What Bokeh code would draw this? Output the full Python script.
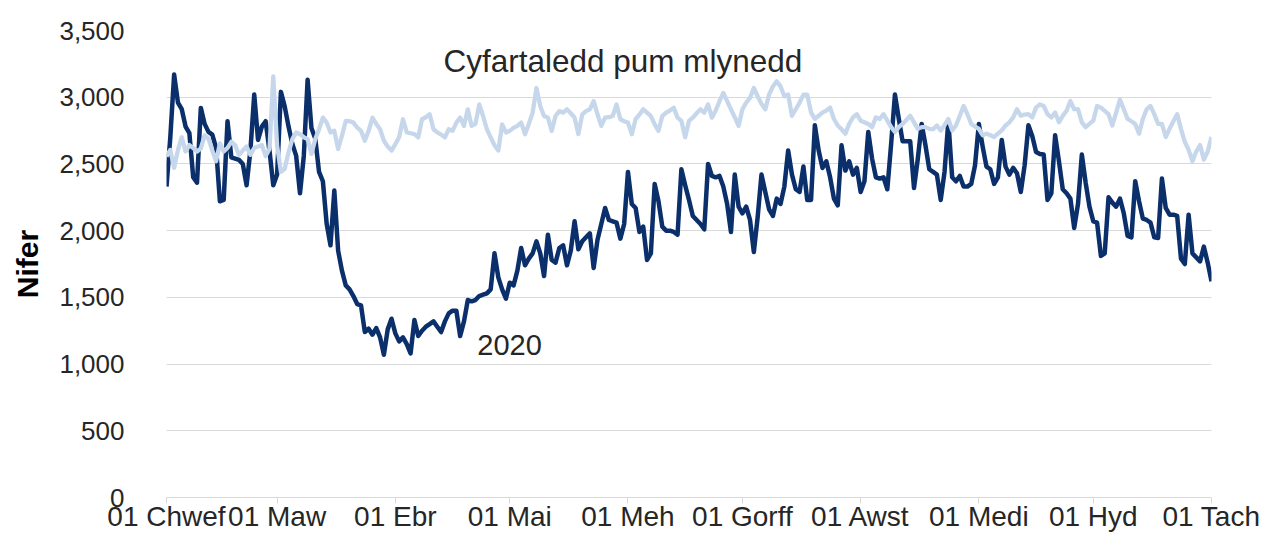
import pandas as pd
from bokeh.plotting import figure
from bokeh.models import Range1d, FixedTicker, NumeralTickFormatter, Label, ColumnDataSource
from bokeh.embed import file_html
from bokeh.resources import INLINE

start_date = "2020-02-01"
end_date = "2020-11-01"

month_starts = ["2020-02-01", "2020-03-01", "2020-04-01", "2020-05-01", "2020-06-01",
                "2020-07-01", "2020-08-01", "2020-09-01", "2020-10-01", "2020-11-01"]
month_labels = ["01 Chwef", "01 Maw", "01 Ebr", "01 Mai", "01 Meh",
                "01 Gorff", "01 Awst", "01 Medi", "01 Hyd", "01 Tach"]
y_ticks = [0, 500, 1000, 1500, 2000, 2500, 3000, 3500]

series_2020 = [
    2330, 2700, 3170, 2960, 2910, 2780, 2730, 2400, 2360, 2920,
    2800, 2740, 2720, 2620, 2220, 2230, 2820, 2550, 2540, 2530,
    2500, 2340, 2600, 3020, 2680, 2780, 2820, 2600, 2340, 2420,
    3040, 2930, 2780, 2650, 2560, 2280, 2560, 3130, 2770, 2690,
    2440, 2370, 2050, 1890, 2300, 1850, 1700, 1590, 1560, 1510,
    1450, 1440, 1240, 1265, 1220, 1270, 1200, 1070, 1260, 1340,
    1230, 1170, 1200, 1150, 1080, 1330, 1210, 1250, 1280, 1300,
    1320, 1280, 1240, 1320, 1380, 1400, 1400, 1210, 1320, 1480,
    1470, 1480, 1510, 1520, 1530, 1560, 1830, 1650, 1560, 1490,
    1610, 1590, 1700, 1870, 1740, 1790, 1830, 1920, 1830, 1660,
    1970, 1780, 1760, 1870, 1890, 1740, 1850, 2070, 1860, 1920,
    1950, 1980, 1720, 1930, 2050, 2170, 2080, 2070, 2060, 1940,
    2050, 2440, 2200, 2170, 1990, 2030, 1780, 1830, 2350, 2220,
    2030, 2000, 2000, 1990, 1970, 2460, 2340, 2230, 2110, 2080,
    2050, 2010, 2500, 2410, 2400, 2410, 2330, 2200, 1990, 2420,
    2180, 2130, 2180, 2080, 1840, 2100, 2420, 2290, 2160, 2110,
    2240, 2200, 2330, 2600, 2420, 2310, 2290, 2480, 2230, 2230,
    2790, 2600, 2470, 2520, 2400, 2240, 2190, 2640, 2450, 2520,
    2420, 2470, 2290, 2370, 2740, 2540, 2400, 2390, 2400, 2310,
    2650, 3020, 2840, 2670, 2670, 2670, 2320, 2540, 2800, 2640,
    2460, 2440, 2420, 2230, 2440, 2820, 2400, 2370, 2410, 2330,
    2330, 2350, 2490, 2800, 2630, 2480, 2460, 2350, 2400, 2680,
    2480, 2420, 2470, 2430, 2290, 2490, 2790, 2710, 2590, 2575,
    2570, 2230, 2280, 2715, 2520, 2310, 2280, 2240, 2020, 2200,
    2570, 2360, 2180, 2070, 2060, 1810, 1830, 2250, 2210, 2180,
    2240, 2130, 1960, 1950, 2370, 2220, 2090, 2080, 2060, 1950,
    1945, 2390, 2170, 2120, 2120, 2110, 1790, 1750, 2120, 1830,
    1800, 1770, 1880, 1760, 1620,
]

series_avg5 = [
    2556, 2605, 2471, 2605, 2700, 2593, 2641, 2620, 2593, 2617,
    2714, 2690, 2600, 2520, 2654, 2593, 2620, 2666, 2641, 2568,
    2600, 2630, 2568, 2620, 2630, 2641, 2560, 2612, 3156, 2637,
    2440, 2464, 2587, 2686, 2736, 2723, 2700, 2686, 2575, 2686,
    2760, 2847, 2810, 2736, 2748, 2612, 2711, 2822, 2820, 2810,
    2773, 2748, 2674, 2748, 2847, 2800, 2760, 2674, 2630, 2600,
    2649, 2700, 2835, 2736, 2730, 2723, 2699, 2835, 2850, 2872,
    2760, 2736, 2720, 2699, 2760, 2748, 2810, 2847, 2785, 2909,
    2785, 2800, 2946, 2859, 2760, 2699, 2640, 2600, 2797, 2736,
    2748, 2770, 2785, 2810, 2723, 2800, 2884, 3069, 2933, 2859,
    2847, 2748, 2859, 2896, 2884, 2909, 2880, 2847, 2723, 2872,
    2896, 2909, 2970, 2872, 2785, 2847, 2850, 2859, 2946, 2835,
    2820, 2810, 2723, 2835, 2870, 2909, 2884, 2859, 2797, 2748,
    2859, 2884, 2900, 2921, 2847, 2822, 2699, 2822, 2847, 2880,
    2909, 2884, 2946, 2847, 2900, 2970, 3032, 2970, 2909, 2850,
    2785, 2909, 2960, 2995, 3069, 3007, 2950, 2909, 3020, 3080,
    3119, 3081, 3007, 3020, 2861, 2910, 2959, 3020, 3020, 2885,
    2837, 2861, 2885, 2900, 2922, 2837, 2788, 2760, 2727, 2800,
    2849, 2873, 2824, 2812, 2800, 2776, 2849, 2837, 2873, 2824,
    2776, 2739, 2776, 2800, 2830, 2861, 2812, 2763, 2776, 2776,
    2763, 2760, 2788, 2751, 2790, 2837, 2751, 2788, 2860, 2934,
    2873, 2800, 2780, 2763, 2715, 2727, 2715, 2702, 2727, 2751,
    2788, 2812, 2849, 2910, 2861, 2870, 2873, 2849, 2922, 2946,
    2934, 2873, 2849, 2885, 2812, 2860, 2898, 2971, 2910, 2910,
    2812, 2776, 2800, 2824, 2934, 2922, 2898, 2873, 2788, 2885,
    2983, 2910, 2837, 2820, 2800, 2727, 2837, 2910, 2934, 2873,
    2800, 2800, 2702, 2763, 2820, 2873, 2763, 2666, 2605, 2520,
    2593, 2641, 2532, 2593, 2702,
]

label_avg = "Cyfartaledd pum mlynedd"
label_2020 = "2020"
y_title = "Nifer"

dates = pd.date_range(start_date, end_date, freq="D")
t0 = dates[0]
day_index = [(d - t0).days for d in dates]
tick_pos = [(pd.Timestamp(m) - t0).days for m in month_starts]

src = ColumnDataSource(dict(x=day_index, y2020=series_2020, yavg=series_avg5))

FONT = "Liberation Sans"
TXT = "#262626"

p = figure(frame_width=1045, frame_height=467, output_backend="svg", toolbar_location=None,
           x_range=Range1d(tick_pos[0], tick_pos[-1]), y_range=Range1d(0, 3500),
           min_border_left=166, min_border_right=51, min_border_top=30, min_border_bottom=36)
p.outline_line_color = None
p.background_fill_color = "white"
p.border_fill_color = "white"

p.line("x", "y2020", source=src, line_color="#0b2f6b", line_width=4.5, line_join="round")
p.line("x", "yavg", source=src, line_color="#c6d7ec", line_width=4.3, line_join="round")

p.xgrid.visible = False
p.ygrid.grid_line_color = "#d9d9d9"
p.ygrid.grid_line_width = 1

p.yaxis.ticker = FixedTicker(ticks=y_ticks)
p.yaxis.formatter = NumeralTickFormatter(format="0,0")
p.yaxis.axis_line_color = None
p.yaxis.major_tick_line_color = None
p.yaxis.minor_tick_line_color = None
p.yaxis.major_label_standoff = 36
p.yaxis.major_label_text_font = FONT
p.yaxis.major_label_text_font_size = "26px"
p.yaxis.major_label_text_color = TXT
p.yaxis.axis_label = y_title
p.yaxis.axis_label_text_font = FONT
p.yaxis.axis_label_text_font_size = "30px"
p.yaxis.axis_label_text_font_style = "bold"
p.yaxis.axis_label_text_color = "#000000"
p.yaxis.axis_label_standoff = 12

p.xaxis.ticker = FixedTicker(ticks=tick_pos)
p.xaxis.major_label_overrides = {t: l for t, l in zip(tick_pos, month_labels)}
p.xaxis.axis_line_color = "#d9d9d9"
p.xaxis.axis_line_width = 1
p.xaxis.major_tick_line_color = "#d9d9d9"
p.xaxis.major_tick_in = 0
p.xaxis.major_tick_out = 6
p.xaxis.minor_tick_line_color = None
p.xaxis.major_label_standoff = -3
p.xaxis.major_label_text_font = FONT
p.xaxis.major_label_text_font_size = "28px"
p.xaxis.major_label_text_color = TXT

p.add_layout(Label(x=72.6, y=3275, text=label_avg, text_font=FONT, text_font_size="31.5px",
                   text_color=TXT, text_baseline="middle", text_align="left"))
p.add_layout(Label(x=81.5, y=1140, text=label_2020, text_font=FONT, text_font_size="29px",
                   text_color=TXT, text_baseline="middle", text_align="left"))

open("out.html", "w").write(file_html(p, INLINE))
